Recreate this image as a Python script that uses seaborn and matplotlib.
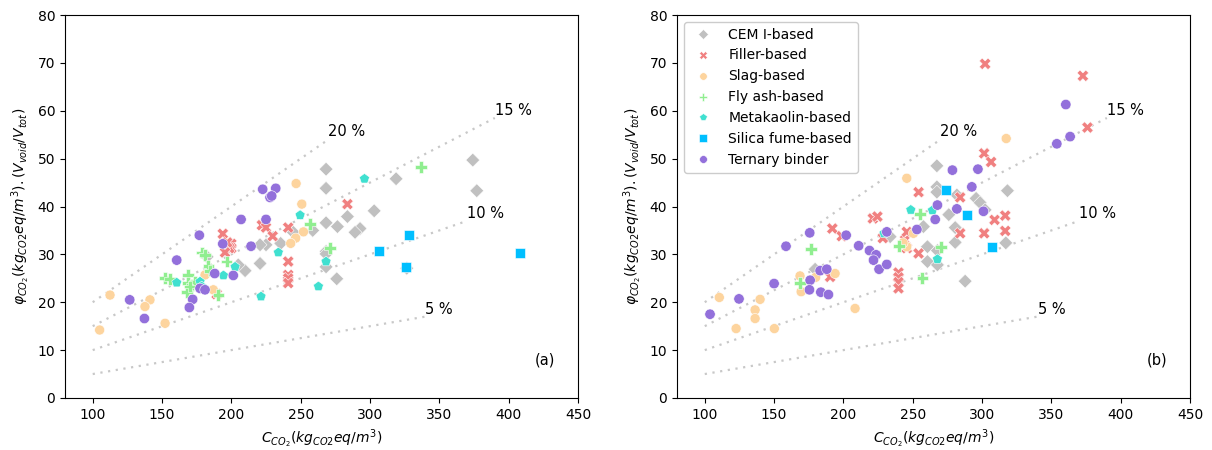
import numpy as np
import pandas as pd
import matplotlib
matplotlib.use("Agg")
import matplotlib.pyplot as plt
import seaborn as sns

# ---------- CONFIG ----------
BINDERS = ["CEM I-based", "Filler-based", "Slag-based", "Fly ash-based",
           "Metakaolin-based", "Silica fume-based", "Ternary binder"]
COLORS = ["#c0c0c0", "#f08080", "#fdd49e", "#90ee90", "#40e0d0", "#00bfff", "#9370db"]
MARKERS = ["D", "X", "o", "P", "p", "s", "o"]
SIZES = [50, 70, 52, 70, 58, 52, 56]

RATIOS = [0.20, 0.15, 0.10, 0.05]
RATIO_LABELS = ["20 %", "15 %", "10 %", "5 %"]
RATIO_XEND = [270, 390, 370, 340]

# ---------- panel (a) ----------
A_CEM_X = [268.3, 268.3, 318.8, 374.1, 377, 303, 283.7, 268.3, 276.5, 258.7, 292.8, 289.2,
           244.7, 235.6, 225, 220.7, 268.3, 268.3, 268.3, 220.7, 209.9, 205, 276, 326.5, 182.5]
A_CEM_Y = [47.8, 43.8, 45.8, 49.7, 43.3, 39.1, 37.9, 36.6, 35.8, 35, 35.4, 34.6,
           34.6, 32.3, 32, 32, 30.6, 30.1, 27.4, 28.1, 26.6, 27.8, 24.9, 27.1, 29.5]
A_FIL_X = [283.7, 222, 225, 241, 229.8, 200, 200, 241, 241, 241, 241, 193.8, 198.5, 195.4, 197, 189.4]
A_FIL_Y = [40.5, 36.1, 35.6, 35.6, 33.8, 32.2, 31.3, 28.5, 25.7, 25, 24, 34.3, 31.3, 30.4, 32.5, 21.7]
A_SLG_X = [246.7, 250.8, 252, 246.4, 242.8, 112.5, 105, 141.3, 137.7, 152.2, 181, 187]
A_SLG_Y = [44.8, 40.5, 34.7, 33.4, 32.3, 21.5, 14.2, 20.5, 19.1, 15.6, 25.7, 22.6]
A_FLY_X = [336.6, 256.8, 271.2, 178.6, 181, 183.4, 184.6, 196.6, 152.2, 155.8, 168.9, 168.9,
           171.4, 167.8, 173.8, 190.6, 170.2]
A_FLY_Y = [48.2, 36.3, 31.3, 30.4, 29.9, 27.6, 26.6, 28.5, 25, 24.8, 25.7, 24,
           23.6, 22.2, 24.3, 21.5, 23.3]
A_MET_X = [296, 249.6, 233.9, 268.3, 262.8, 221.4, 202.7, 160.6, 194.3, 177.4, 178.6]
A_MET_Y = [45.8, 38.2, 30.4, 28.5, 23.3, 21.2, 27.4, 24.1, 25.6, 24.3, 23.3]
A_SIL_X = [328.4, 306.5, 325.8, 408.3]
A_SIL_Y = [34, 30.8, 27.4, 30.2]
A_TER_X = [222.6, 232, 227.9, 229.1, 207, 225, 214.2, 201.4, 176.9, 160.6, 193.8, 188,
           177.4, 181, 172.1, 169.7, 126.7, 137.3]
A_TER_Y = [43.6, 43.8, 41.9, 42.2, 37.3, 37.3, 31.7, 25.6, 34, 28.8, 32.2, 26,
           22.9, 22.6, 20.6, 18.9, 20.5, 16.6]

# ---------- panel (b) ----------
B_CEM_X = [179.6, 233.7, 267.4, 267.4, 267.4, 281.8, 295.7, 298.6, 318.3, 276, 302.2, 257.7,
           280.6, 280.6, 260.6, 267.8, 317.1, 260.6, 267.8, 287.8]
B_CEM_Y = [26.9, 33.7, 48.5, 44.1, 43, 42.4, 41.7, 40.8, 43.3, 38.3, 39.3, 35.8,
           35.6, 32.5, 31.6, 30.8, 32.4, 28.5, 27.8, 24.4]
B_FIL_X = [302.2, 372.7, 376, 301.5, 306.5, 254.2, 284.2, 316.7, 309, 284.2, 301.5, 316.7,
           254.2, 192, 198.8, 190.4, 221.2, 224.5, 228.4, 239.7, 239.7, 239.7, 239.7,
           244.5, 245.7, 245.7]
B_FIL_Y = [69.8, 67.3, 56.5, 51.1, 49.3, 43, 41.9, 38.1, 37.2, 34.4, 34.4, 34.9,
           30.2, 35.4, 33.8, 25.3, 37.5, 37.9, 33.4, 26.2, 25.2, 24.2, 22.9,
           33, 31.3, 34.7]
B_SLG_X = [110.5, 136.3, 136.3, 139.9, 122.6, 150.2, 168.7, 169.5, 194, 180, 208.4, 245.7,
           245.7, 243, 250.5, 317.4]
B_SLG_Y = [21, 18.4, 16.6, 20.6, 14.5, 14.5, 25.5, 22.2, 26, 25.2, 18.7, 45.9,
           31.6, 32.4, 34.4, 54.2]
B_FLY_X = [176.7, 168.7, 240.2, 255.3, 270.2, 256.9]
B_FLY_Y = [31.1, 24, 31.7, 38.4, 31.6, 25.1]
B_MET_X = [248.6, 229.3, 264.2, 267.8]
B_MET_Y = [39.3, 34.4, 39.2, 29]
B_SIL_X = [274, 289, 307.3]
B_SIL_Y = [43.4, 38.3, 31.6]
B_TER_X = [103.8, 124.7, 150, 158.6, 175.7, 176, 175.5, 183.7, 189.2, 183.2, 188, 202,
           211, 218.8, 223.6, 221.7, 225.7, 231.3, 231.3, 253, 360.4, 363.5, 353.9,
           278.6, 297, 292.6, 267.8, 281.8, 301, 266.2]
B_TER_Y = [17.5, 20.7, 23.9, 31.7, 34.5, 24.6, 22.6, 22.1, 21.6, 26.6, 26.9, 34,
           31.8, 30.8, 29.9, 28.8, 26.9, 27.9, 34.7, 35.2, 61.3, 54.6, 53.1,
           47.6, 47.8, 44.1, 40.3, 39.5, 39, 37.3]

PANEL_A = [(A_CEM_X, A_CEM_Y), (A_FIL_X, A_FIL_Y), (A_SLG_X, A_SLG_Y), (A_FLY_X, A_FLY_Y),
           (A_MET_X, A_MET_Y), (A_SIL_X, A_SIL_Y), (A_TER_X, A_TER_Y)]
PANEL_B = [(B_CEM_X, B_CEM_Y), (B_FIL_X, B_FIL_Y), (B_SLG_X, B_SLG_Y), (B_FLY_X, B_FLY_Y),
           (B_MET_X, B_MET_Y), (B_SIL_X, B_SIL_Y), (B_TER_X, B_TER_Y)]


# ---------- helpers ----------
def to_frame(panel):
    rows = []
    for name, (xs, ys) in zip(BINDERS, panel):
        for x, y in zip(xs, ys):
            rows.append({"C": x, "phi": y, "binder": name})
    return pd.DataFrame(rows)


def draw_panel(ax, panel, tag, legend):

    for r, lab, xend in zip(RATIOS, RATIO_LABELS, RATIO_XEND):
        xs = np.array([100, xend])
        ax.plot(xs, r * xs, ls=(0, (1, 2.5)), color="#c8c8c8", lw=1.6, zorder=1)
        ax.text(xend, r * xend, lab, ha="left", va="bottom", fontsize=10.5)

    sns.scatterplot(
        data=to_frame(panel),
        x="C",
        y="phi",
        hue="binder",
        style="binder",
        size="binder",
        hue_order=BINDERS,
        style_order=BINDERS,
        size_order=BINDERS,
        palette=dict(zip(BINDERS, COLORS)),
        markers=dict(zip(BINDERS, MARKERS)),
        sizes=dict(zip(BINDERS, SIZES)),
        linewidth=0.4,
        edgecolor="white",
        legend=legend,
        ax=ax,
        zorder=3
    )

    ax.set_xlim(80, 450)
    ax.set_ylim(0, 80)
    ax.set_xlabel(r"$C_{CO_2}(kg_{CO2}eq/m^3)$")
    ax.set_ylabel(r"$\varphi_{CO_2}(kg_{CO2}eq/m^3).(V_{void}/V_{tot})$")
    ax.text(426, 8, tag, ha="center", va="center", fontsize=10.5)

    if legend:
        ax.legend(loc="upper left", title=None, fontsize=10, framealpha=1,
                  markerscale=0.75)


def main():

    fig = plt.figure(figsize=(12.12, 4.5), dpi=100)
    ax1 = fig.add_axes([0.0536, 0.1156, 0.4233, 0.851])
    ax2 = fig.add_axes([0.5586, 0.1156, 0.4233, 0.851])

    draw_panel(ax1, PANEL_A, "(a)", False)
    draw_panel(ax2, PANEL_B, "(b)", True)

    fig.savefig("out.png", dpi=100)
    plt.close(fig)


if __name__ == "__main__":
    main()
